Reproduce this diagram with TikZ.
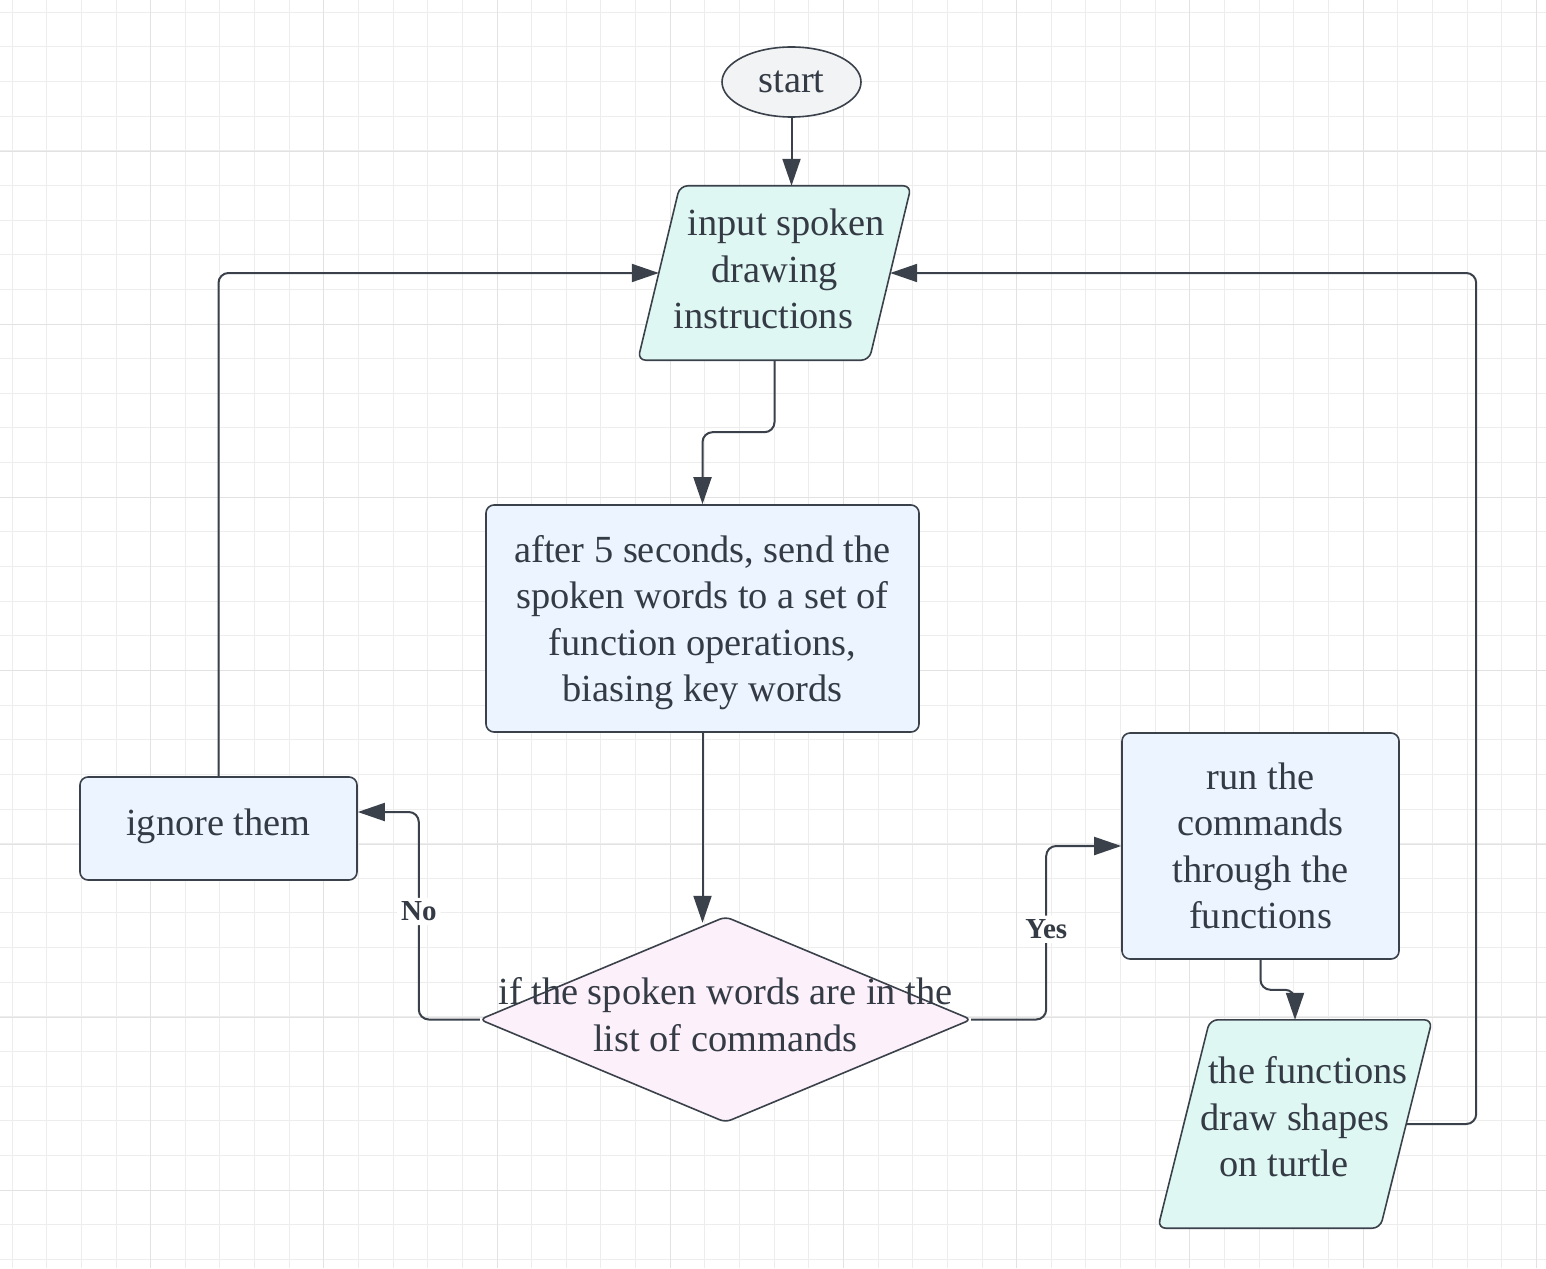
\documentclass[tikz,border=0pt]{standalone}
\usepackage{fontspec}
\setmainfont{Liberation Serif}
\usetikzlibrary{shapes.geometric,arrows.meta,calc}
\pgfdeclarelayer{grid}
\pgfdeclarelayer{bg}
\pgfsetlayers{grid,bg,main}
\definecolor{ink}{HTML}{3A414A}
\definecolor{txt}{HTML}{343B45}
\definecolor{gridminor}{HTML}{EDEDED}
\definecolor{gridmajor}{HTML}{E2E2E2}
\definecolor{tealfill}{HTML}{DEF7F3}
\definecolor{bluefill}{HTML}{EBF4FF}
\definecolor{pinkfill}{HTML}{FCF0FA}
\definecolor{grayfill}{HTML}{F2F3F5}
\begin{document}
\begin{tikzpicture}[x=1pt,y=-1pt,
  txtstyle/.style={font=\fontsize{38.4}{46.5}\selectfont, text=txt, align=center, inner sep=0pt},
  box/.style={inner sep=0pt, draw=ink, line width=1.6pt, rounded corners=8pt, fill=bluefill},
  textonly/.style={inner sep=0pt},
  conn/.style={draw=ink, line width=2pt, rounded corners=10pt, -{Triangle[length=27pt,width=18pt]}},
  lbl/.style={font=\fontsize{29}{32}\bfseries\selectfont, text=txt, fill=white, inner sep=4pt},
  shapeline/.style={draw=ink, line width=1.6pt, rounded corners=8pt}
]
\useasboundingbox (0,0) rectangle (1546,1268);
\begin{pgfonlayer}{grid}
  \fill[white] (0,0) rectangle (1546,1268);
  \foreach \i in {0,...,44} {
    \pgfmathsetmacro\gx{12.1+34.64*\i}
    \draw[gridminor, line width=1pt] (\gx,0) -- (\gx,1268);
  }
  \foreach \i in {0,...,36} {
    \pgfmathsetmacro\gy{12.3+34.64*\i}
    \draw[gridminor, line width=1pt] (0,\gy) -- (1546,\gy);
  }
  \foreach \i in {0,...,8} {
    \pgfmathsetmacro\gx{150.7+173.2*\i}
    \draw[gridmajor, line width=1.1pt] (\gx,0) -- (\gx,1268);
  }
  \foreach \i in {0,...,6} {
    \pgfmathsetmacro\gy{151.3+173.2*\i}
    \draw[gridmajor, line width=1.1pt] (0,\gy) -- (1546,\gy);
  }
\end{pgfonlayer}

\node[txtstyle, ellipse, draw=ink, line width=1.6pt, fill=grayfill, minimum width=139pt, minimum height=70pt] (start) at (791.5,82) {start};

\node[textonly, minimum width=231pt, minimum height=174pt,
  label={[txtstyle, yshift=4pt]center:{\hspace*{24pt}input spoken\\drawing\\instructions\hspace*{22pt}}}] (inp) at (774.5,273) {};

\node[box, minimum width=433pt, minimum height=227pt,
  label={[txtstyle, yshift=-4pt]center:{after 5 seconds, send the\\spoken words to a set of\\function operations,\\biasing key words}}] (proc) at (702.5,618.5) {};

\node[textonly, minimum width=491pt, minimum height=205pt,
  label={[txtstyle, yshift=5pt]center:{if the spoken words are in the\\list of commands}}] (dec) at (725.5,1019.5) {};

\node[box, minimum width=277pt, minimum height=103pt,
  label={[txtstyle, yshift=2pt]center:{ignore them}}] (ign) at (218.5,828.5) {};

\node[box, minimum width=277pt, minimum height=226pt,
  label={[txtstyle]center:{run the\\commands\\through the\\functions}}] (run) at (1260.5,846) {};

\node[textonly, minimum width=222pt, minimum height=208pt,
  label={[txtstyle, yshift=7pt]center:{\hspace*{26pt}the functions\\draw shapes\\on turtle\hspace*{22pt}}}] (fun) at (1295,1124) {};

\begin{pgfonlayer}{bg}
  \draw[shapeline, fill=tealfill] ($(inp.north)+(21,0)$) -- ($(inp.north east)+(21,0)$) -- ($(inp.south east)+(-21,0)$) -- ($(inp.south west)+(-21,0)$) -- ($(inp.north west)+(21,0)$) -- cycle;
  \draw[shapeline, fill=tealfill] ($(fun.north)+(26,0)$) -- ($(fun.north east)+(26,0)$) -- ($(fun.south east)+(-26,0)$) -- ($(fun.south west)+(-26,0)$) -- ($(fun.north west)+(26,0)$) -- cycle;
  \draw[draw=ink, line width=1.6pt, rounded corners=6pt, fill=pinkfill] ($(dec.north)!0.5!(dec.east)$) -- (dec.east) -- (dec.south) -- (dec.west) -- (dec.north) -- cycle;
\end{pgfonlayer}

\coordinate (ignin) at ($(ign.east)+(0,-16.5)$);

\draw[conn] (start.south) -- (inp.north -| start.south);
\draw[conn] (inp.south) -- ++(0,72) -| (proc.north);
\draw[conn] (proc.south) -- ($(proc.south |- dec.north)+(0,6)$);
\draw[conn] (dec.west) -- ++(-61,0) |- node[lbl, pos=0.26]{No} (ignin);
\draw[conn] (dec.east) -- ++(75,0) |- node[lbl, pos=0.26]{Yes} (run.west);
\draw[conn] (run.south) -- ++(0,30) -| (fun.north);
\draw[conn] (fun.east) -- ++(70,0) |- (inp.east);
\draw[conn] (ign.north) |- (inp.west);
\end{tikzpicture}
\end{document}
